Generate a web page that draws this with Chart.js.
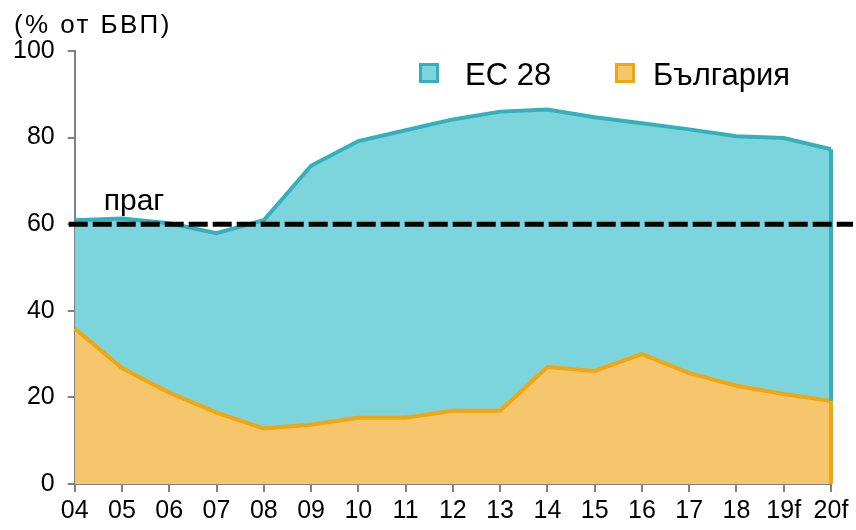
<!DOCTYPE html>
<html>
<head>
<meta charset="utf-8">
<script src="https://cdn.jsdelivr.net/npm/chart.js@4/dist/chart.umd.min.js"></script>
<style>
    html, body { margin: 0; padding: 0; background: #ffffff; }
    #wrap { width: 856px; height: 530px; position: relative; }
</style>
</head>
<body>
<div id="wrap"><canvas id="debtChart"></canvas></div>
<script>
// Data
const years = ['04', '05', '06', '07', '08', '09', '10', '11', '12', '13', '14', '15', '16', '17', '18', '19f', '20f'];
const eu28 = [60.9, 61.3, 60.2, 57.9, 60.9, 73.5, 79.2, 81.7, 84.2, 86.0, 86.5, 84.7, 83.3, 81.9, 80.3, 79.9, 77.3];
const bulgaria = [35.9, 26.8, 21.1, 16.5, 12.8, 13.7, 15.3, 15.3, 16.9, 16.9, 27.0, 26.1, 30.0, 25.6, 22.7, 20.8, 19.2];
const threshold = 60;
const yTicks = [0, 20, 40, 60, 80, 100];

const tealLine = '#35b0ba';
const tealFill = '#7cd5dc';
const orangeLine = '#f2a50f';
const orangeFill = '#f6c66c';
const axisGray = '#808080';
const fontFamily = '"Liberation Sans", Arial, sans-serif';

// title, legend, threshold line and the closing edges of the areas
const extras = {
    id: 'extras',
    afterDatasetsDraw(chart) {
        const { ctx, chartArea, scales: { x, y } } = chart;
        const last = years.length - 1;
        const xr = x.getPixelForValue(last);
        const y0 = y.getPixelForValue(0);
        const yEu = y.getPixelForValue(eu28[last]);
        const yBg = y.getPixelForValue(bulgaria[last]);

        ctx.save();
        ctx.lineWidth = 4;
        ctx.strokeStyle = tealLine;
        ctx.beginPath();
        ctx.moveTo(xr, yEu);
        ctx.lineTo(xr, yBg);
        ctx.stroke();
        ctx.strokeStyle = orangeLine;
        ctx.beginPath();
        ctx.moveTo(xr, yBg);
        ctx.lineTo(xr, y0);
        ctx.stroke();

        // threshold
        const yt = y.getPixelForValue(threshold);
        ctx.strokeStyle = '#000000';
        ctx.lineWidth = 5;
        ctx.setLineDash([19, 5]);
        ctx.beginPath();
        ctx.moveTo(chartArea.left - 6, yt);
        ctx.lineTo(chartArea.right + 22, yt);
        ctx.stroke();
        ctx.setLineDash([]);

        ctx.fillStyle = '#000000';
        ctx.textAlign = 'left';
        ctx.textBaseline = 'alphabetic';
        ctx.font = '30px ' + fontFamily;
        ctx.fillText('праг', chartArea.left + 29, yt - 14);

        // title
        ctx.font = '26px ' + fontFamily;
        ctx.letterSpacing = '2.4px';
        ctx.fillText('(% от БВП)', 14, 33);
        ctx.letterSpacing = '0px';

        // legend
        const items = [
            { ds: chart.data.datasets[0], box: 419, text: 465 },
            { ds: chart.data.datasets[1], box: 615, text: 653 }
        ];
        ctx.font = '31px ' + fontFamily;
        ctx.textBaseline = 'middle';
        items.forEach(it => {
            ctx.fillStyle = it.ds.backgroundColor;
            ctx.strokeStyle = it.ds.borderColor;
            ctx.lineWidth = 3;
            ctx.fillRect(it.box + 1.5, 64.5, 17, 17);
            ctx.strokeRect(it.box + 1.5, 64.5, 17, 17);
            ctx.fillStyle = '#000000';
            ctx.fillText(it.ds.label, it.text, 76);
        });
        ctx.restore();
    }
};

const ctx = document.getElementById('debtChart').getContext('2d');

new Chart(ctx, {
    type: 'line',
    data: {
        labels: years,
        datasets: [{
            label: 'ЕС 28',
            data: eu28,
            borderColor: tealLine,
            backgroundColor: tealFill,
            borderWidth: 4,
            pointRadius: 0,
            fill: 'origin',
            tension: 0,
            order: 2
        }, {
            label: 'България',
            data: bulgaria,
            borderColor: orangeLine,
            backgroundColor: orangeFill,
            borderWidth: 4,
            pointRadius: 0,
            fill: 'origin',
            tension: 0,
            order: 1
        }]
    },
    options: {
        responsive: true,
        maintainAspectRatio: false,
        animation: false,
        layout: {
            padding: { left: 0, right: 25, top: 51, bottom: 0 }
        },
        plugins: {
            legend: { display: false },
            tooltip: { enabled: false }
        },
        scales: {
            x: {
                offset: false,
                grid: {
                    display: true,
                    drawOnChartArea: false,
                    color: axisGray,
                    lineWidth: 2,
                    tickLength: 8
                },
                border: { color: axisGray, width: 2 },
                ticks: {
                    color: '#000000',
                    font: { family: fontFamily, size: 25 },
                    maxRotation: 0,
                    autoSkip: false,
                    padding: 4
                }
            },
            y: {
                min: 0,
                max: 100,
                afterBuildTicks(axis) {
                    axis.ticks = yTicks.map(v => ({ value: v }));
                },
                grid: {
                    display: true,
                    drawOnChartArea: false,
                    color: axisGray,
                    lineWidth: 2,
                    tickLength: 7
                },
                border: { color: axisGray, width: 2 },
                ticks: {
                    color: '#000000',
                    font: { family: fontFamily, size: 25 },
                    padding: 13
                }
            }
        }
    },
    plugins: [extras]
});
</script>
</body>
</html>
